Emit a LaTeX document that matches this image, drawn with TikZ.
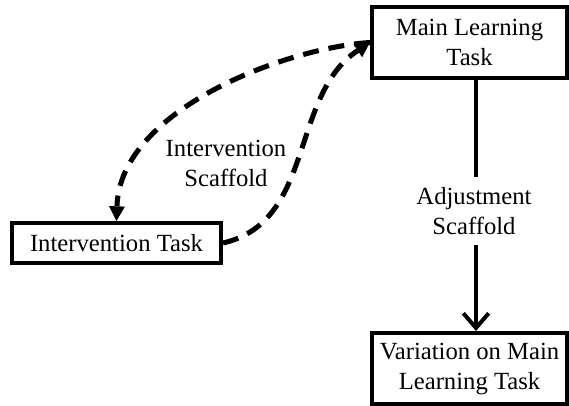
\documentclass[tikz,border=0pt]{standalone}
\usepackage{fontspec}
\setmainfont{Liberation Serif}
\usetikzlibrary{arrows.meta}
\begin{document}
\begin{tikzpicture}[x=0.75pt,y=-0.75pt,
  txt/.style={font=\fontsize{18.5}{22.5}\selectfont, align=center},
  taskbox/.style={txt, draw, line width=3pt, inner sep=0pt, minimum height=#1},
  taskbox/.default=53.25pt,
  dashlink/.style={line width=3.8pt, dash pattern=on 12pt off 7.5pt,
    -{Triangle[length=11pt,width=12pt,line width=0pt]}},
  solidlink/.style={line width=3pt,
    -{Straight Barb[length=11pt,width=19pt,line width=3pt]}}]
  \useasboundingbox (0,0) rectangle (569,406);

  % task boxes
  \node[taskbox, minimum width=146.25pt] (main) at (469.5,42.5) {Main Learning\\Task};
  \node[taskbox=30pt, minimum width=156.75pt] (interv) at (116.5,243) {Intervention Task};
  \node[taskbox, minimum width=146.25pt] (var) at (469.5,368.5) {Variation on Main\\Learning Task};

  % column of the adjustment arrow
  \coordinate (ax) at (476,0);

  % intervention loop: out to the side task and back
  \draw[dashlink] (main.west) .. controls (285,48) and (120,110) .. (interv.north);
  \draw[dashlink] (interv.east) .. controls (315,222) and (290,95) .. (main.west);
  \node[txt] (ilabel) at (226,163) {Intervention\\Scaffold};

  % adjustment path down to the variation
  \draw[solidlink] (main.south -| ax) -- (var.north -| ax);
  \node[txt, fill=white, inner xsep=2pt, inner ysep=8pt] (alabel) at (474,211) {Adjustment\\Scaffold};
\end{tikzpicture}
\end{document}
